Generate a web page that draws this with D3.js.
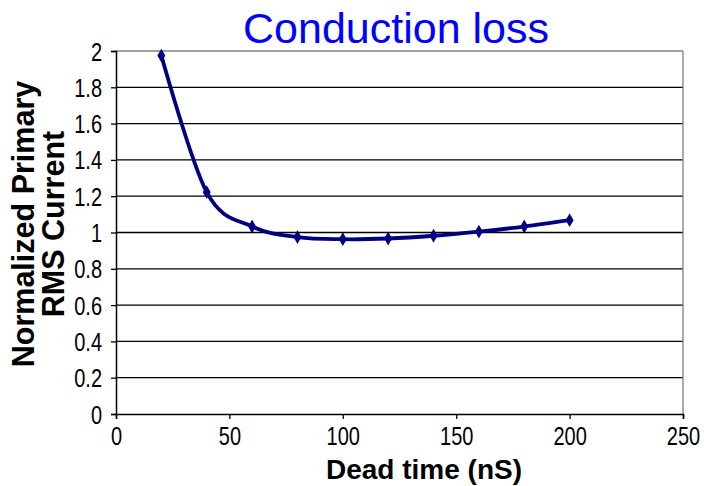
<!DOCTYPE html>
<html><head><meta charset="utf-8">
<script src="https://cdn.jsdelivr.net/npm/d3@7"></script>
<style>body{margin:0;background:#fff}svg{display:block}</style>
</head><body>
<svg id="c" width="704" height="486"></svg>
<script>
const deadTime = [20, 40, 60, 80, 100, 120, 140, 160, 180, 200];
const rmsCurrent = [1.975, 1.222, 1.033, 0.975, 0.963, 0.967, 0.982, 1.005, 1.033, 1.068];
const xTicks = [0, 50, 100, 150, 200, 250];
const yTicks = [0, 0.2, 0.4, 0.6, 0.8, 1, 1.2, 1.4, 1.6, 1.8, 2];
const titleText = "Conduction loss";
const xTitle = "Dead time (nS)";
const yTitleLines = ["Normalized Primary", "RMS Current"];

const svg = d3.select("#c");
const L = 116, R = 683, T = 51, B = 414;
const x = d3.scaleLinear().domain([0, 250]).range([L, R]);
const y = d3.scaleLinear().domain([0, 2]).range([B, T]);
const font = "'Liberation Sans', Arial, sans-serif";
const sx = 0.8;

// gridlines
svg.append("g").selectAll("line").data(yTicks.filter(d => d > 0 && d < 2)).join("line")
  .attr("x1", L).attr("x2", R).attr("y1", d => y(d)).attr("y2", d => y(d))
  .attr("stroke", "#000").attr("stroke-width", 1.3);
// plot border top & right (gray)
svg.append("line").attr("x1", L).attr("x2", R).attr("y1", T).attr("y2", T).attr("stroke", "#808080").attr("stroke-width", 1.3);
svg.append("line").attr("x1", R).attr("x2", R).attr("y1", T).attr("y2", B).attr("stroke", "#808080").attr("stroke-width", 1.3);

// axes
const xAxis = svg.append("g").attr("transform", `translate(0,${B})`)
  .call(d3.axisBottom(x).tickValues(xTicks).tickSize(5).tickFormat(d3.format("d")));
const yAxis = svg.append("g").attr("transform", `translate(${L},0)`)
  .call(d3.axisLeft(y).tickValues(yTicks).tickSize(5).tickFormat(d => String(+d.toFixed(1))));
[xAxis, yAxis].forEach(a => {
  a.select(".domain").attr("stroke", "#000").attr("stroke-width", 1.5);
  a.selectAll(".tick line").attr("stroke", "#000").attr("stroke-width", 1.3);
  a.selectAll("text").attr("font-family", font).attr("font-size", 25).attr("fill", "#000")
    .attr("transform", `scale(${sx},1)`);
});
xAxis.selectAll(".tick text").attr("y", 31).attr("dy", 0);
yAxis.selectAll(".tick text").attr("x", -14 / sx).attr("dy", "0.36em");

// line
const pts = deadTime.map((d, i) => [d, rmsCurrent[i]]);
const line = d3.line().x(d => x(d[0])).y(d => y(d[1])).curve(d3.curveCatmullRom.alpha(0));
svg.append("path").datum(pts).attr("d", line).attr("fill", "none")
  .attr("stroke", "#000080").attr("stroke-width", 3.8).attr("stroke-linejoin", "round");
svg.append("g").selectAll("path").data(pts).join("path")
  .attr("transform", d => `translate(${x(d[0])},${y(d[1])})`)
  .attr("d", d3.symbol(d3.symbolDiamond, 55)())
  .attr("fill", "#000080");

// titles
svg.append("text").attr("x", 396).attr("y", 43).attr("text-anchor", "middle")
  .attr("font-family", font).attr("font-size", 43).attr("fill", "#0000ff").text(titleText);
svg.append("text").attr("x", 424).attr("y", 479).attr("text-anchor", "middle")
  .attr("font-family", font).attr("font-weight", "bold").attr("font-size", 28).attr("fill", "#000").text(xTitle);
const yt = svg.append("text").attr("transform", "translate(0,224) rotate(-90)")
  .attr("text-anchor", "middle").attr("font-family", font).attr("font-weight", "bold")
  .attr("font-size", 30.5).attr("fill", "#000");
yTitleLines.forEach((t, i) => yt.append("tspan").attr("x", 0).attr("y", 34 + i * 30).text(t));
</script>
</body></html>
